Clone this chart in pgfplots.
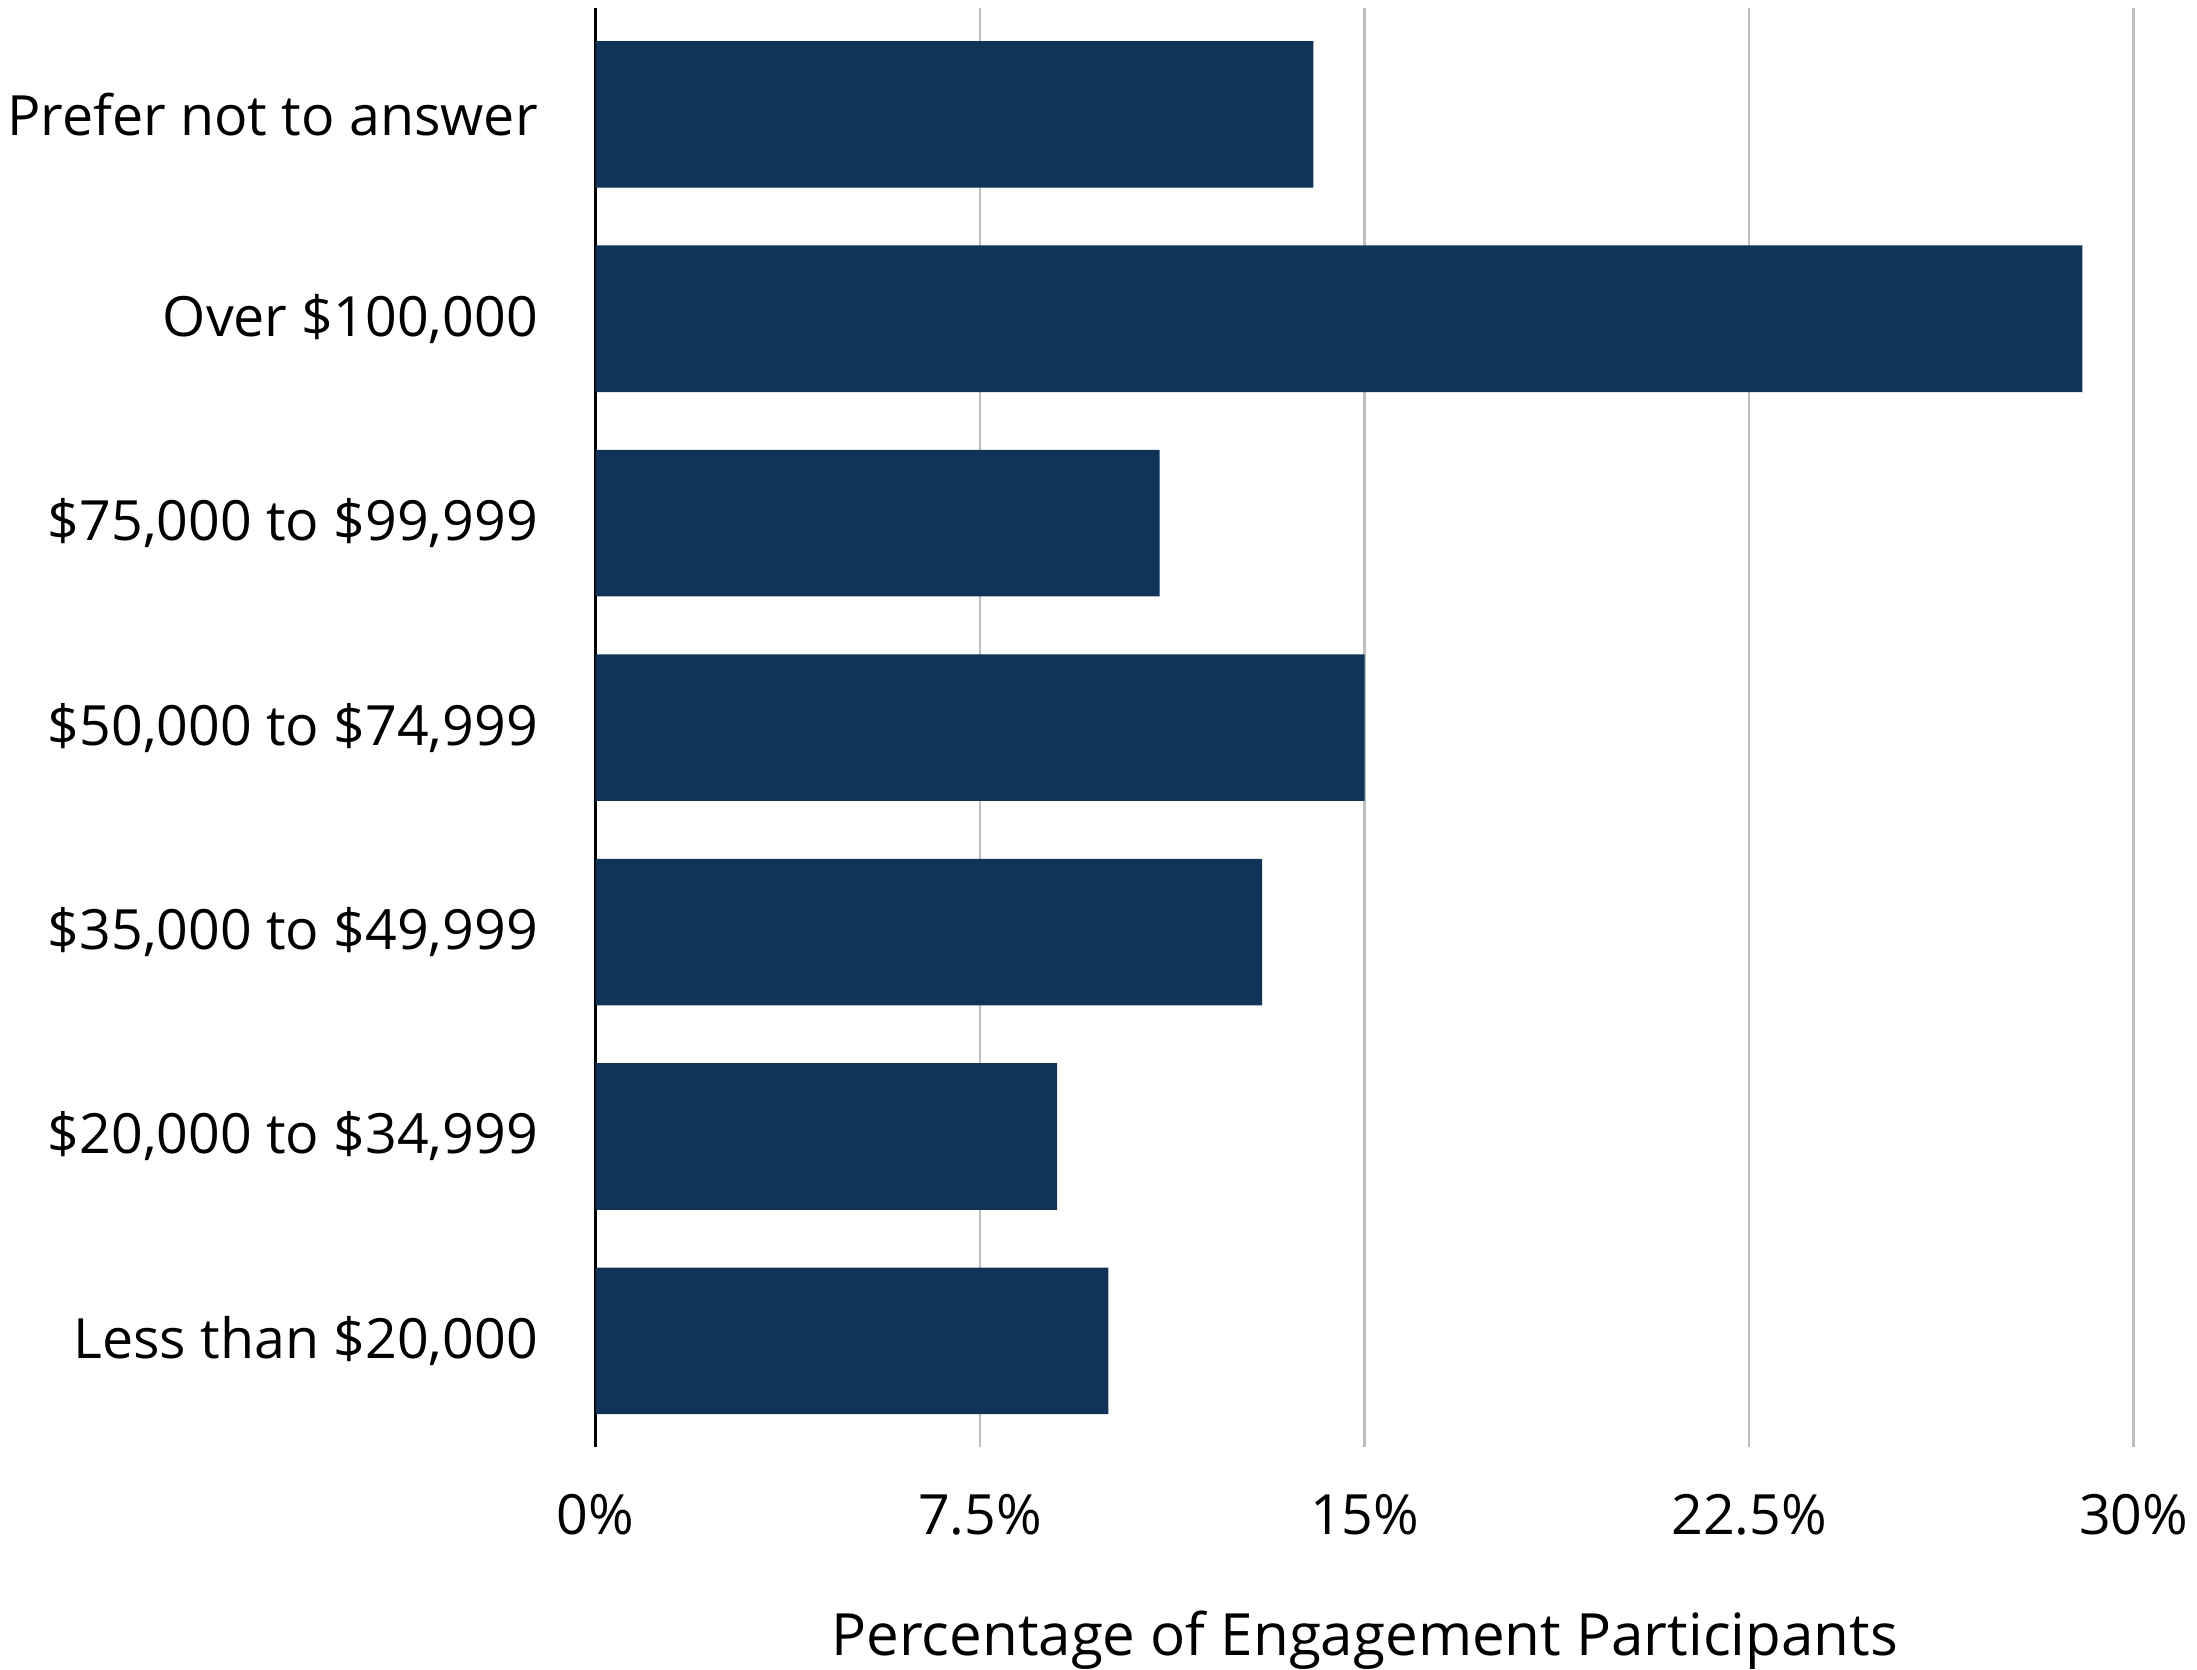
\documentclass[border=0pt]{standalone}
\usepackage{fontspec}
\setmainfont{Open Sans}
\usepackage{pgfplots}
\pgfplotsset{compat=1.18}
\definecolor{barblue}{HTML}{0F3457}
\begin{document}
\begin{tikzpicture}
  \begin{axis}[
      scale only axis,
      width=385.25pt,
      height=360.5pt,
      xbar,
      bar width=0.717,
      xmin=0, xmax=30,
      ymin=-0.52, ymax=6.52,
      axis x line*=bottom,
      axis y line*=left,
      x axis line style={draw=none},
      y axis line style={black, line width=0.75pt},
      major tick length=0pt,
      xmajorgrids,
      grid style={draw=black!25, line width=0.6pt},
      xtick={0,7.5,15,22.5,30},
      xticklabels={0\%,7.5\%,15\%,22.5\%,30\%},
      ytick={0,1,2,3,4,5,6},
      yticklabels={{Less than \$20,000},{\$20,000 to \$34,999},{\$35,000 to \$49,999},{\$50,000 to \$74,999},{\$75,000 to \$99,999},{Over \$100,000},{Prefer not to answer}},
      tick label style={font=\fontsize{13.9}{16}\selectfont, inner sep=0pt},
      xticklabel style={yshift=-11.6pt},
      yticklabel style={xshift=-14.3pt},
      xlabel={Percentage of Engagement Participants},
      xlabel style={font=\fontsize{14.6}{17}\selectfont, inner sep=0pt, yshift=-18.8pt},
    ]
    \addplot[fill=barblue, draw=none] coordinates {
      (10,0) (9,1) (13,2) (15,3) (11,4) (29,5) (14,6)
    };
  \end{axis}
  \path (current axis.north) ++(0,2pt);
  \path (current bounding box.west) ++(-1.8pt,0);
  \path (current bounding box.east) ++(2.2pt,0);
\end{tikzpicture}
\end{document}
